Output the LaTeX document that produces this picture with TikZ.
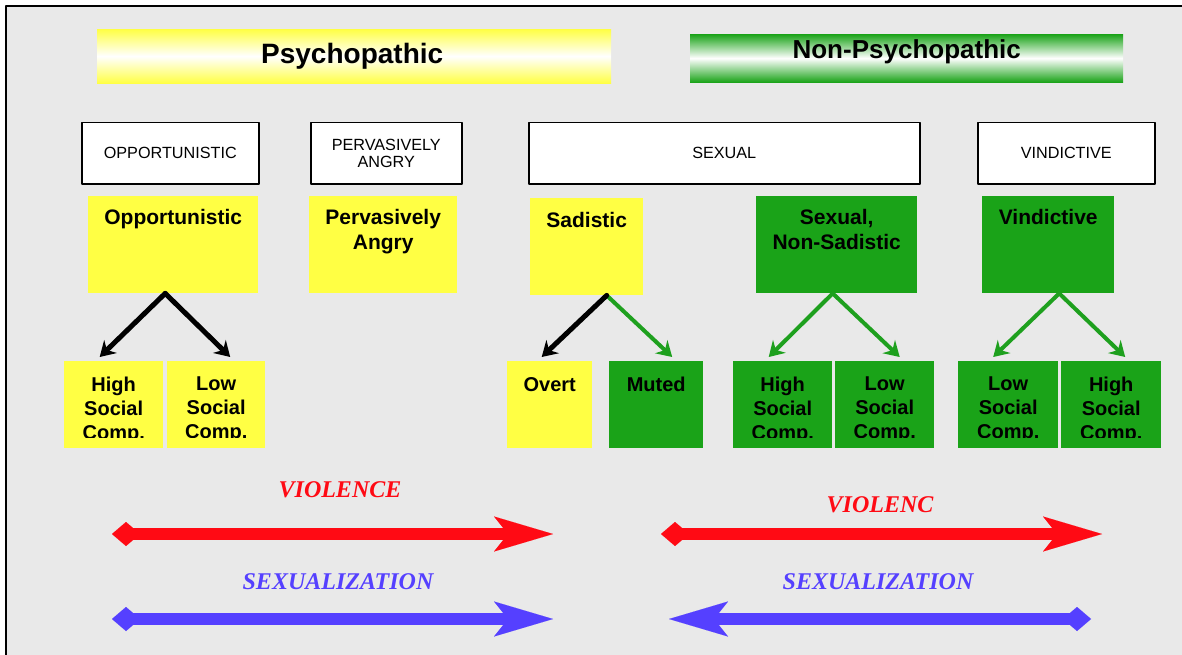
\documentclass[tikz,border=0pt]{standalone}
\usepackage{fontspec}
\setmainfont{Liberation Sans}
\newfontfamily\scalefont{Liberation Serif}
\usetikzlibrary{arrows.meta}
\usetikzlibrary{positioning}
\definecolor{bggray}{RGB}{233,233,233}
\definecolor{psyyellow}{RGB}{255,255,68}
\definecolor{nongreen}{RGB}{26,163,24}
\definecolor{arrowgreen}{RGB}{30,160,30}
\definecolor{violred}{RGB}{255,10,20}
\definecolor{sexblue}{RGB}{85,64,255}

\begin{document}
\begin{tikzpicture}[x=1pt,y=-1pt,line join=round,
  hdrbox/.style={inner sep=0pt,anchor=north west},
  hdrtext/.style={inner sep=0pt},
  typebox/.style={draw=black,line width=1.5pt,fill=white,inner sep=0pt,anchor=north west,align=center,minimum height=61pt,font=\fontsize{16.2}{17.5}\selectfont},
  ybox/.style={fill=psyyellow,inner sep=0pt,anchor=north west},
  gbox/.style={fill=nongreen,inner sep=0pt,anchor=north west},
  boxlab/.style={anchor=north,inner sep=0pt,align=center,font=\fontsize{21}{25}\selectfont\bfseries},
  sublab/.style={anchor=north,inner sep=0pt,align=center,font=\fontsize{20}{24}\selectfont\bfseries},
  blkarrow/.style={line width=5pt,line cap=round,-{Stealth[length=15pt,width=18pt,inset=5pt]}},
  grnarrow/.style={blkarrow,line width=4pt,arrowgreen},
  bigarrow/.style={line width=12pt,{Diamond[length=28pt,width=24pt,line width=0.01pt]}-{Stealth[length=59pt,width=35pt,inset=14pt,line width=0.01pt]}},
  scalelab/.style={anchor=base,inner sep=0pt,font=\scalefont\fontsize{24}{24}\selectfont\bfseries\itshape}]
\useasboundingbox (0,0) rectangle (1182,655);
\clip (0,0) rectangle (1182,655);
\fill[white] (0,0) rectangle (1182,655);
\draw[line width=2pt,fill=bggray] (6,6) rectangle (1200,680);

% headers
\node[hdrbox,top color=psyyellow,bottom color=psyyellow,middle color=white,minimum width=514pt,minimum height=54pt] (psy) at (97,29) {};
\node[hdrtext,font=\fontsize{28}{30}\selectfont\bfseries] (psytext) at ([xshift=-2pt]psy.center) {Psychopathic};
\node[hdrbox,top color=nongreen,bottom color=nongreen,middle color=white,minimum width=433pt,minimum height=48pt] (non) at (690,34) {};
\node[hdrtext,font=\fontsize{26}{28}\selectfont\bfseries] (nontext) at ([yshift=6pt]non.center) {Non-Psychopathic};

% type boxes
\node[typebox,minimum width=177pt] (topp) at (81,122) {OPPORTUNISTIC};
\node[typebox,minimum width=151pt] (tang) at (310,122) {PERVASIVELY\\ANGRY};
\node[typebox,minimum width=391pt] (tsex) at (528,122) {SEXUAL};
\node[typebox,minimum width=177pt] (tvin) at (977,122) {VINDICTIVE};

% subtypes
\node[ybox,minimum width=170pt,minimum height=97pt] (opp) at (88,196) {};
\node[ybox,minimum width=148pt,minimum height=97pt] (ang) at (309,196) {};
\node[ybox,minimum width=113pt,minimum height=97pt] (sad) at (530,198) {};
\node[gbox,minimum width=161pt,minimum height=97pt] (sns) at (756,196) {};
\node[gbox,minimum width=132pt,minimum height=97pt] (vin) at (982,196) {};
\node[boxlab] at ([yshift=-13pt]opp.north) {Opportunistic};
\node[boxlab] at ([yshift=-13pt]ang.north) {Pervasively\\Angry};
\node[boxlab] at ([yshift=-14pt]sad.north) {Sadistic};
\node[boxlab] at ([yshift=-13pt]sns.north) {Sexual,\\Non-Sadistic};
\node[boxlab] at ([yshift=-13pt]vin.north) {Vindictive};

% social competence level
\node[ybox,minimum width=99pt,minimum height=87pt] (ohi) at (64,361) {};
\node[ybox,minimum width=98pt,minimum height=87pt] (olo) at (167,361) {};
\node[ybox,minimum width=85pt,minimum height=87pt] (overt) at (507,361) {};
\node[gbox,minimum width=94pt,minimum height=87pt] (muted) at (609,361) {};
\node[gbox,minimum width=99pt,minimum height=87pt] (shi) at (733,361) {};
\node[gbox,minimum width=99pt,minimum height=87pt] (slo) at (835,361) {};
\node[gbox,minimum width=100pt,minimum height=87pt] (vlo) at (958,361) {};
\node[gbox,minimum width=100pt,minimum height=87pt] (vhi) at (1061,361) {};
\begin{scope}
\clip (0,0) rectangle (1182,437);
\node[sublab] at ([yshift=-16pt]ohi.north) {High\\Social\\Comp.};
\node[sublab] at ([yshift=-16pt]olo.north) {Low\\Social\\Comp.};
\node[sublab] at ([yshift=-16pt]overt.north) {Overt};
\node[sublab] at ([yshift=-16pt]muted.north) {Muted};
\node[sublab] at ([yshift=-16pt]shi.north) {High\\Social\\Comp.};
\node[sublab] at ([yshift=-16pt]slo.north) {Low\\Social\\Comp.};
\node[sublab] at ([yshift=-16pt]vlo.north) {Low\\Social\\Comp.};
\node[sublab] at ([yshift=-16pt]vhi.north) {High\\Social\\Comp.};
\end{scope}

\draw[blkarrow] ([xshift=-8pt]opp.south) -- ([xshift=-14pt,yshift=4pt]ohi.north);
\draw[blkarrow] ([xshift=-8pt]opp.south) -- ([xshift=14pt,yshift=4pt]olo.north);
\draw[grnarrow] ([xshift=20pt]sad.south) -- ([xshift=16pt,yshift=4pt]muted.north);
\draw[blkarrow] ([xshift=20pt]sad.south) -- ([xshift=-8pt,yshift=4pt]overt.north);
\draw[grnarrow] ([xshift=-4pt]sns.south) -- ([xshift=-14pt,yshift=4pt]shi.north);
\draw[grnarrow] ([xshift=-4pt]sns.south) -- ([xshift=15pt,yshift=4pt]slo.north);
\draw[grnarrow] ([xshift=11pt]vin.south) -- ([xshift=-15pt,yshift=4pt]vlo.north);
\draw[grnarrow] ([xshift=11pt]vin.south) -- ([xshift=14pt,yshift=4pt]vhi.north);

% scales
\coordinate (v1l) at (112,534); \coordinate (v1r) at (553,534);
\coordinate (s1l) at (112,619); \coordinate (s1r) at (553,619);
\coordinate (v2l) at (661,534); \coordinate (v2r) at (1102,534);
\coordinate (s2l) at (669,619); \coordinate (s2r) at (1091,619);
\draw[bigarrow,violred] (v1l) -- (v1r);
\draw[bigarrow,sexblue] (s1l) -- (s1r);
\draw[bigarrow,violred] (v2l) -- (v2r);
\draw[bigarrow,sexblue] (s2r) -- (s2l);
\node[scalelab,violred] (viol1) at (340,497) {VIOLENCE};
\node[scalelab,sexblue] (sex1) at (338,589) {SEXUALIZATION};
\node[scalelab,violred] (viol2) at (880,512) {VIOLENC};
\node[scalelab,sexblue] (sex2) at (878,589) {SEXUALIZATION};
\end{tikzpicture}
\end{document}
